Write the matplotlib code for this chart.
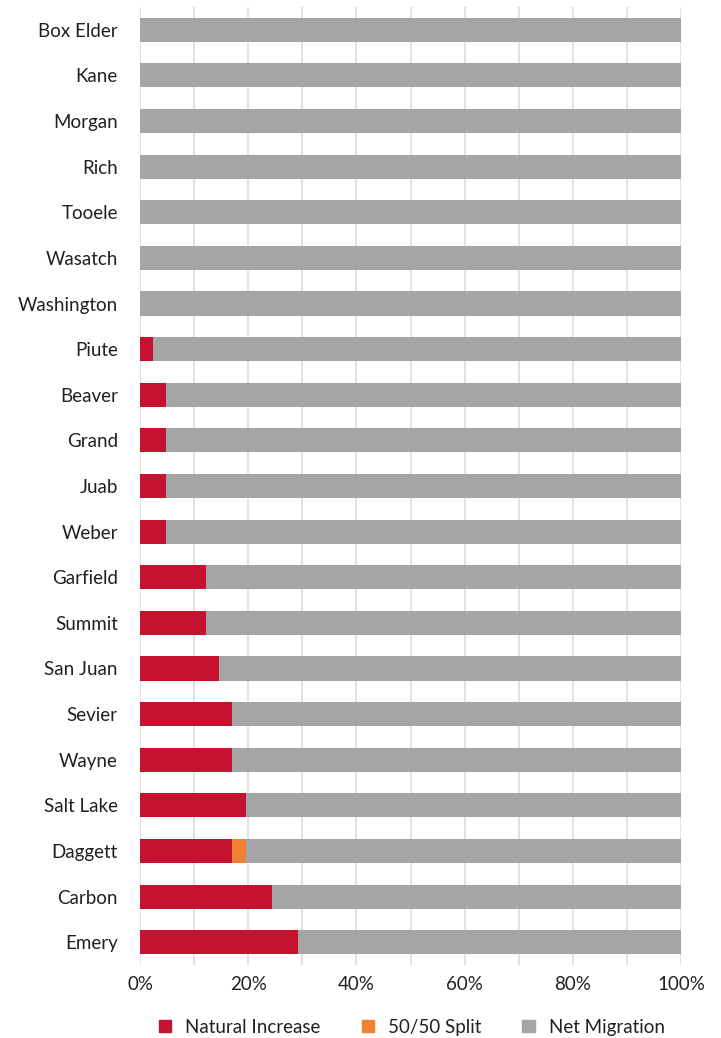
import numpy as np
import matplotlib
matplotlib.use("Agg")
import matplotlib.pyplot as plt
from matplotlib.patches import Patch

plt.rcParams['font.family'] = ['Lato', 'DejaVu Sans']

counties = ["Box Elder", "Kane", "Morgan", "Rich", "Tooele", "Wasatch", "Washington",
            "Piute", "Beaver", "Grand", "Juab", "Weber", "Garfield", "Summit",
            "San Juan", "Sevier", "Wayne", "Salt Lake", "Daggett", "Carbon", "Emery"]
# years (out of 41) in which each component drove growth
natural_years = [0, 0, 0, 0, 0, 0, 0, 1, 2, 2, 2, 2, 5, 5, 6, 7, 7, 8, 7, 10, 12]
split_years = [0, 0, 0, 0, 0, 0, 0, 0, 0, 0, 0, 0, 0, 0, 0, 0, 0, 0, 1, 0, 0]
total_years = 41

natural = np.array(natural_years) / total_years * 100
split = np.array(split_years) / total_years * 100
migration = 100 - natural - split

RED = "#C41230"
ORANGE = "#F08232"
GRAY = "#A5A5A5"

fig = plt.figure(figsize=(7.21, 10.38), dpi=100)
ax = fig.add_axes([0.1942, 0.0703, 0.7503, 0.923])

y = np.arange(len(counties))
h = 0.53
ax.barh(y, natural, height=h, color=RED, zorder=3)
ax.barh(y, split, left=natural, height=h, color=ORANGE, zorder=3)
ax.barh(y, migration, left=natural + split, height=h, color=GRAY, zorder=3)

ax.set_ylim(len(counties) - 0.5, -0.5)
ax.set_xlim(0, 100)
ax.set_yticks(y)
ax.set_yticklabels(counties, fontsize=13.5, color="#231F20")
ax.set_xticks(np.arange(0, 101, 20))
ax.set_xticklabels([f"{v}%" for v in range(0, 101, 20)], fontsize=13.5, color="#231F20")
ax.set_xticks(np.arange(0, 101, 10), minor=True)
ax.grid(axis="x", which="both", color="#DDDDDD", linewidth=1.2, zorder=0)
ax.tick_params(axis="both", which="both", length=0)
ax.tick_params(axis="y", pad=16)
ax.tick_params(axis="x", pad=8)
for s in ax.spines.values():
    s.set_visible(False)

handles = [Patch(color=RED, label="Natural Increase"),
           Patch(color=ORANGE, label="50/50 Split"),
           Patch(color=GRAY, label="Net Migration")]
fig.legend(handles=handles, loc="center", bbox_to_anchor=(0.571, 0.0105), ncol=3,
           frameon=False, fontsize=13.5, handlelength=0.65, handleheight=0.65,
           handletextpad=0.75, columnspacing=2.2, labelcolor="#231F20")

fig.savefig("out.png", dpi=100)
